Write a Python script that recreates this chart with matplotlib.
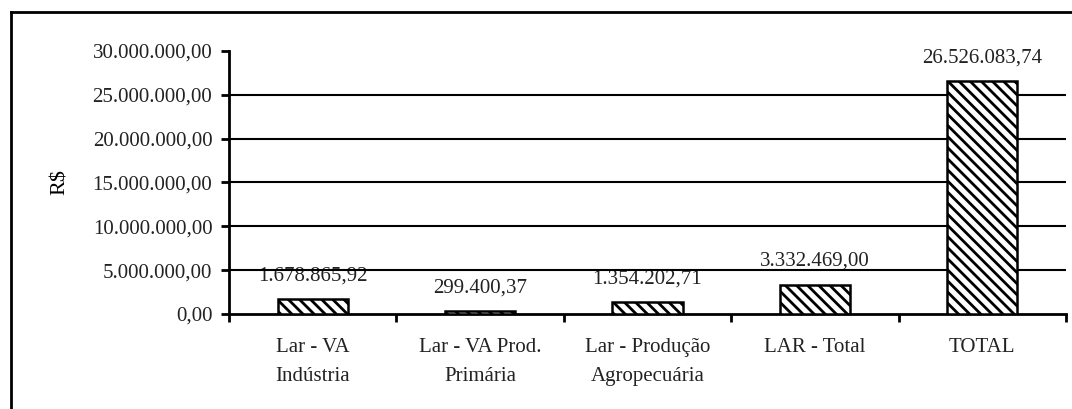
import matplotlib.pyplot as plt
from matplotlib.lines import Line2D
import numpy as np

# Categories and values (R$)
categories = ['Lar - VA\nIndústria', 'Lar - VA Prod.\nPrimária', 'Lar - Produção\nAgropecuária',
              'LAR - Total', 'TOTAL']
values = [1678865.92, 299400.37, 1354202.71, 3332469.00, 26526083.74]
y_ticks = [0, 5000000, 10000000, 15000000, 20000000, 25000000, 30000000]


def brl(v):
    # Brazilian number format: 26.526.083,74
    s = f'{v:,.2f}'
    return s.replace(',', 'X').replace('.', ',').replace('X', '.')


plt.rcParams['font.family'] = ['Liberation Serif', 'DejaVu Serif']
plt.rcParams['hatch.linewidth'] = 2.0

fig = plt.figure(figsize=(10.72, 4.09), dpi=100)
ax = fig.add_axes([0.2136, 0.2323, 0.7808, 0.643])

x = np.arange(len(categories))
ax.bar(x, values, width=0.42, color='white', edgecolor='black', hatch='\\\\\\',
       linewidth=1.8, zorder=3)

# horizontal gridlines (not at top)
for t in y_ticks[1:-1]:
    ax.axhline(t, color='black', linewidth=1.5, zorder=2)

for xi, v in zip(x, values):
    ax.annotate(brl(v), (xi, v), xytext=(0, 10), textcoords='offset points',
                ha='center', va='bottom', fontsize=15, color='#222222', zorder=1)

ax.set_xlim(-0.5, len(categories) - 0.5)
ax.set_ylim(0, 30000000)
ax.set_yticks(y_ticks)
ax.set_yticklabels([brl(t) for t in y_ticks], fontsize=15, color='#222222')
ax.set_xticks(x)
ax.set_xticklabels(categories, fontsize=15, color='#222222', linespacing=1.75, va='top')
ax.set_xticks(np.arange(len(categories) + 1) - 0.5, minor=True)
ax.tick_params(axis='x', which='major', length=0, pad=17)
ax.tick_params(axis='x', which='minor', length=6, width=2, direction='out')
ax.tick_params(axis='y', length=6, width=2, direction='out', pad=6)
ax.set_ylabel('R$', fontsize=16, labelpad=16)

for side in ['top', 'right']:
    ax.spines[side].set_visible(False)
for side in ['left', 'bottom']:
    ax.spines[side].set_linewidth(2)

# outer frame (left and top edges)
fig.add_artist(Line2D([0.0103, 0.0103], [0.0, 0.9707], transform=fig.transFigure,
                      color='black', linewidth=2))
fig.add_artist(Line2D([0.0103, 1.0], [0.9707, 0.9707], transform=fig.transFigure,
                      color='black', linewidth=2))

plt.savefig('out.png', dpi=100)
